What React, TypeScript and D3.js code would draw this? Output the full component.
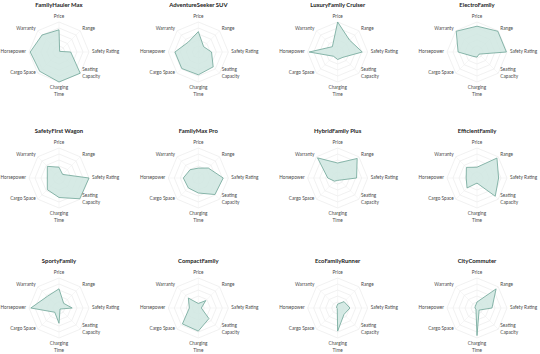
import * as d3 from "d3";
import { useEffect } from "react";

// axes of every radar, clockwise from the top
const axes = [
  "Price",
  "Range",
  "Safety Rating",
  "Seating Capacity",
  "Charging Time",
  "Cargo Space",
  "Horsepower",
  "Warranty",
];

const models = [
  "FamilyHauler Max",
  "AdventureSeeker SUV",
  "LuxuryFamily Cruiser",
  "ElectroFamily",
  "SafetyFirst Wagon",
  "FamilyMax Pro",
  "HybridFamily Plus",
  "EfficientFamily",
  "SportyFamily",
  "CompactFamily",
  "EcoFamilyRunner",
  "CityCommuter",
];

// scores 0-10, same order as axes
const familyHaulerMax = [7.4, 0.3, 3.9, 10, 10, 9.1, 9.6, 8.0];
const adventureSeekerSuv = [6.8, 2.5, 4.4, 7.0, 7.6, 7.8, 7.8, 4.7];
const luxuryFamilyCruiser = [10, 5.6, 8.2, 2.5, 2.5, 2.0, 9.5, 2.5];
const electroFamily = [8.6, 9.8, 9.8, 1.0, 1.7, 2.0, 6.3, 9.8];
const safetyFirstWagon = [3.6, 1.7, 10, 9.8, 6.5, 5.5, 3.9, 5.5];
const familyMaxPro = [3.3, 4.7, 8.3, 7.8, 5.0, 4.7, 5.0, 3.9];
const hybridFamilyPlus = [5.0, 9.2, 6.3, 1.0, 0.8, 1.5, 3.3, 9.5];
const efficientFamily = [3.6, 9.4, 7.2, 8.6, 1.7, 4.7, 3.6, 5.0];
const sportyFamily = [6.4, 2.2, 4.4, 0.5, 5.1, 2.0, 9.4, 5.5];
const compactFamily = [1.5, 3.5, 1.0, 5.0, 7.7, 7.5, 3.0, 4.7];
const ecoFamilyRunner = [1.3, 3.0, 4.1, 3.0, 7.7, 0.2, 0.3, 0.5];
const cityCommuter = [2.0, 9.0, 5.0, 1.0, 9.2, 0.5, 0.7, 0.8];

const scores = [
  familyHaulerMax,
  adventureSeekerSuv,
  luxuryFamilyCruiser,
  electroFamily,
  safetyFirstWagon,
  familyMaxPro,
  hybridFamilyPlus,
  efficientFamily,
  sportyFamily,
  compactFamily,
  ecoFamilyRunner,
  cityCommuter,
];

const gridLevels = [2, 4, 6, 8, 10];

const width = 540;
const height = 354;
const radius = 30;
const cols = 4;
const rowCenters = [52, 178, 308];

const angle = d3
  .scaleLinear()
  .domain([0, axes.length])
  .range([0, 2 * Math.PI]);
const r = d3.scaleLinear().domain([0, 10]).range([0, radius]);

const colX = d3
  .scaleLinear()
  .domain([0, cols - 1])
  .range([59, 477]);

const radar = d3
  .lineRadial<number>()
  .angle((_, i) => angle(i))
  .radius((d) => r(d))
  .curve(d3.curveLinearClosed);

function labelLines(name: string) {
  if (name === "Seating Capacity") return ["Seating", "Capacity"];
  if (name === "Charging Time") return ["Charging", "Time"];
  return [name];
}

const Radar = ({ title, values }: { title: string; values: number[] }) => {
  const labelR = radius + 3;
  return (
    <g>
      <text
        y={-47}
        textAnchor="middle"
        dominantBaseline="middle"
        fontSize={5.9}
        fontWeight="bold"
        fill="#222"
      >
        {title}
      </text>
      {gridLevels.map((lv) => (
        <path
          key={lv}
          d={radar(axes.map(() => lv)) || ""}
          fill="none"
          stroke="#e8e8e8"
          strokeWidth={0.6}
        />
      ))}
      {axes.map((a, i) => {
        const x = Math.sin(angle(i)) * radius;
        const y = -Math.cos(angle(i)) * radius;
        return (
          <line key={a} x1={0} y1={0} x2={x} y2={y} stroke="#eeeeee" strokeWidth={0.5} />
        );
      })}
      <path
        d={radar(values) || ""}
        fill="#cfe6e1"
        fillOpacity={0.85}
        stroke="#6da597"
        strokeWidth={0.8}
        strokeLinejoin="round"
      />
      {axes.map((a, i) => {
        const s = Math.sin(angle(i));
        const c = Math.cos(angle(i));
        const x = s * labelR;
        const y = -c * labelR;
        const lines = labelLines(a);
        const anchor = s > 0.1 ? "start" : s < -0.1 ? "end" : "middle";
        const lh = 7;
        let y0: number;
        if (c > 0.9) y0 = y - 2.5 - (lines.length - 1) * lh;
        else if (c < -0.9) y0 = y + 3;
        else y0 = y - ((lines.length - 1) * lh) / 2 + (c < -0.1 ? -2 : 0);
        return (
          <text
            key={a}
            x={x}
            y={y0}
            textAnchor={anchor}
            dominantBaseline="middle"
            fontSize={4.7}
            fill="#4a4a4a"
          >
            {lines.map((l, k) => (
              <tspan key={l} x={x} dy={k === 0 ? 0 : lh}>
                {l}
              </tspan>
            ))}
          </text>
        );
      })}
    </g>
  );
};

export default function App() {
  useEffect(() => {
    document.body.style.margin = "0";
  }, []);
  return (
    <svg
      width={width}
      height={height}
      style={{ display: "block", background: "#fff", fontFamily: "Lato, sans-serif" }}
    >
      {models.map((m, i) => (
        <g
          key={m}
          transform={`translate(${colX(i % cols)},${rowCenters[Math.floor(i / cols)]})`}
        >
          <Radar title={m} values={scores[i]} />
        </g>
      ))}
    </svg>
  );
}
